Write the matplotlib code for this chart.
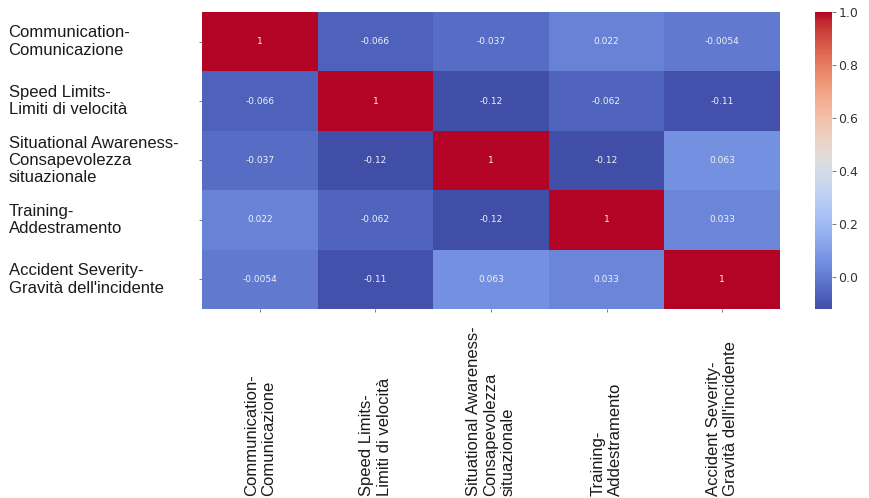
import matplotlib
matplotlib.use("Agg")
import matplotlib.pyplot as plt
import numpy as np
import seaborn as sns
from matplotlib.colors import ListedColormap

# Variable names (English-Italian) and their pairwise correlations
labels = [
    "Communication-\nComunicazione",
    "Speed Limits-\nLimiti di velocità",
    "Situational Awareness-\nConsapevolezza\nsituazionale",
    "Training-\nAddestramento",
    "Accident Severity-\nGravità dell'incidente",
]
row_communication = [1, -0.066, -0.037, 0.022, -0.0054]
row_speed = [-0.066, 1, -0.12, -0.062, -0.11]
row_awareness = [-0.037, -0.12, 1, -0.12, 0.063]
row_training = [0.022, -0.062, -0.12, 1, 0.033]
row_severity = [-0.0054, -0.11, 0.063, 0.033, 1]

corr = np.array([row_communication, row_speed, row_awareness, row_training, row_severity])

# coolwarm with the blue half toned down a little towards grey
pos = np.linspace(0, 1, 256)
base = plt.get_cmap("coolwarm")(pos)
lum = (base[:, :3] @ np.array([0.299, 0.587, 0.114]))[:, None]
mix = (0.22 * (1 - pos))[:, None]
base[:, :3] = base[:, :3] * (1 - mix) + lum * mix
cmap = ListedColormap(base)

DPI = 100
fig = plt.figure(figsize=(8.69, 4.98), dpi=DPI)
ax = fig.add_axes([0.2325, 0.3795, 0.665, 0.5965])
cax = fig.add_axes([0.938, 0.3795, 0.0196, 0.5965])

sns.heatmap(
    corr, ax=ax, cbar_ax=cax, cmap=cmap, annot=True,
    annot_kws={"fontsize": 6.5, "color": "#f2f2f2"},
)

label_font = ["Liberation Sans", "DejaVu Sans"]

# y labels sit flush-left near the figure edge
ax.set_yticks(np.arange(len(labels)) + 0.5)
ax.set_yticklabels(labels, rotation=0, ha="left", va="center",
                   fontsize=12, family=label_font, color="#1a1a1a")
ax.tick_params(axis="y", pad=(202 - 12) * 72 / DPI, length=2.5,
               width=0.6, color="#666666")

# x labels hang from the bottom edge, reading upwards
ax.set_xticks(np.arange(len(labels)) + 0.5)
ax.set_xticklabels(labels, rotation=90, ha="center", va="bottom",
                   fontsize=12, family=label_font, color="#1a1a1a")
for t in ax.get_xticklabels():
    t.set_multialignment("left")
ax.tick_params(axis="x", pad=(493 - 309) * 72 / DPI, length=2.5,
               width=0.6, color="#666666")

cax.tick_params(labelsize=9, labelcolor="#333333", length=3, pad=1.5,
                width=0.6, color="#666666")

fig.savefig("out.png", dpi=DPI)
